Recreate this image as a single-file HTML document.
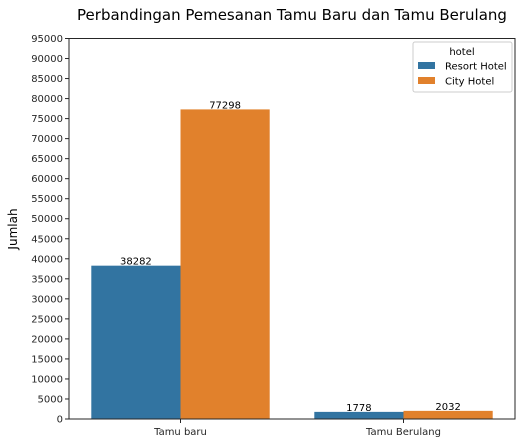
<!DOCTYPE html>
<html><head><meta charset="utf-8"><style>
body{margin:0;background:#fff;}
svg text{font-family:"DejaVu Sans","Liberation Sans",sans-serif;fill:#262626;}
</style></head><body>
<svg id="chart" width="522" height="443" viewBox="0 0 522 443" xmlns="http://www.w3.org/2000/svg">
<rect width="522" height="443" fill="#fff"/>
<text x="292" y="20" font-size="15" text-anchor="middle" style="fill:#000">Perbandingan Pemesanan Tamu Baru dan Tamu Berulang</text>
<text x="0" y="0" font-size="12" text-anchor="middle" transform="translate(17,229) rotate(-90)" style="fill:#000">Jumlah</text>
<g id="ticks"></g>
<g id="bars"></g>
<rect x="69" y="38.5" width="446" height="380.5" fill="none" stroke="#262626" stroke-width="1"/>
<g>
<rect x="413" y="42" width="99" height="50" fill="#fff" stroke="#ccc" rx="2"/>
<text x="462" y="55" font-size="10" text-anchor="middle" style="fill:#000">hotel</text>
<rect x="418" y="62" width="17" height="7" fill="#3274a1"/>
<text x="445" y="69.5" font-size="10" style="fill:#000">Resort Hotel</text>
<rect x="418" y="77" width="17" height="7" fill="#e1812c"/>
<text x="445" y="84.5" font-size="10" style="fill:#000">City Hotel</text>
</g>
</svg>
<script>
const categories=["Tamu baru","Tamu Berulang"];
const resortValues=[38282,1778];
const cityValues=[77298,2032];
const yTicks=[0,5000,10000,15000,20000,25000,30000,35000,40000,45000,50000,55000,60000,65000,70000,75000,80000,85000,90000,95000];
const NS="http://www.w3.org/2000/svg";
const L=69,R=515,T=38.5,B=419,YMAX=95000;
const y=v=>B-(v/YMAX)*(B-T);
const band=(R-L)/categories.length;
const xc=i=>L+band*(i+0.5);
const bw=band*0.8/2;
function mk(tag,attrs,parent){const e=document.createElementNS(NS,tag);for(const k in attrs)e.setAttribute(k,attrs[k]);parent.appendChild(e);return e;}
const tg=document.getElementById('ticks');
yTicks.forEach(v=>{
  const l=mk('line',{x1:L-4,x2:L,y1:y(v),y2:y(v),stroke:'#262626'},tg);
  
  
  const t=mk('text',{x:L-6,y:y(v)+3.5,'font-size':10,'text-anchor':'end'},tg);
  
  
  t.textContent=v;
});
const bg=document.getElementById('bars');
categories.forEach((c,i)=>{
  const l=mk('line',{x1:xc(i),x2:xc(i),y1:B,y2:B+4,stroke:'#262626'},tg);
  
  
  const t=mk('text',{x:xc(i),y:B+16,'font-size':10,'text-anchor':'middle'},tg);
  
  
  t.textContent=c;
  [[resortValues,'#3274a1',-1,'resort'],[cityValues,'#e1812c',0,'city']].forEach(([arr,col,off,nm])=>{
    const x0=xc(i)+off*bw;
    const r=mk('rect',{x:x0,y:y(arr[i]),width:bw,height:B-y(arr[i]),fill:col},bg);
    
    
    const lab=mk('text',{x:x0+bw/2,y:y(arr[i])-1,'font-size':10,'text-anchor':'middle'},bg);
    
    
    lab.style.fill='#000';
    lab.textContent=arr[i];
  });
});
</script>
</body></html>
